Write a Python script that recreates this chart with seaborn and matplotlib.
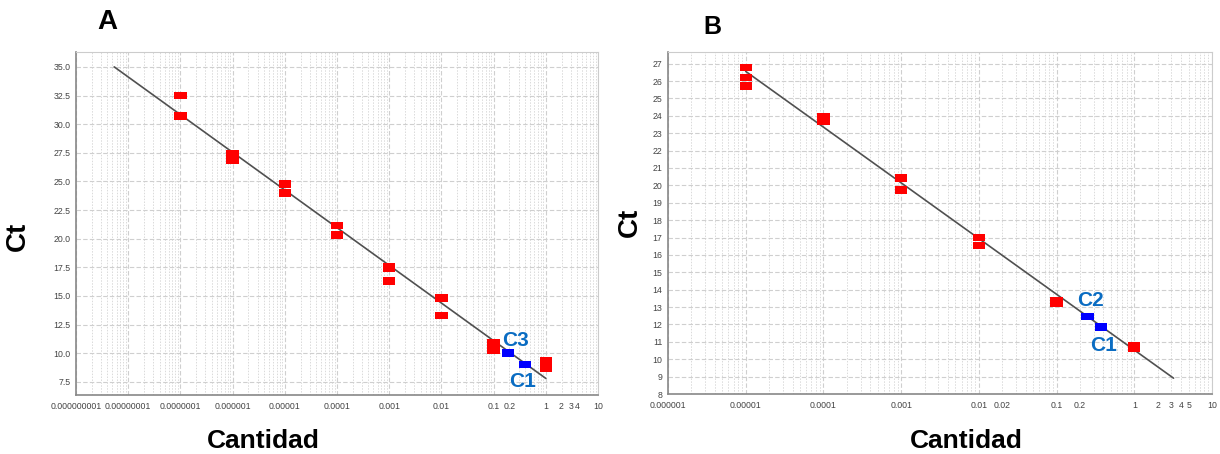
import numpy as np
import pandas as pd
import matplotlib
matplotlib.use('Agg')
import matplotlib.pyplot as plt
import seaborn as sns
from matplotlib.ticker import FixedLocator, FuncFormatter

# --- Panel A: curva estandar ---
a_x_std = [1e-7, 1e-7, 1e-6, 1e-6, 1e-5, 1e-5, 1e-4, 1e-4, 1e-3, 1e-3, 1e-3,
           1e-2, 1e-2, 1e-1, 1e-1, 1, 1]
a_ct_std = [32.5, 30.7, 27.4, 26.85, 24.8, 24.0, 21.15, 20.3, 17.55, 17.4, 16.3,
            14.8, 13.3, 10.95, 10.3, 9.3, 8.65]
a_x_muestra = [0.19, 0.40]
a_ct_muestra = [10.0, 9.0]
a_muestra_lbl = ["C3", "C1"]
a_pendiente = -3.29
a_intercepto = 7.8
a_rango_x = [5.4e-9, 1.0]
a_xticks = [1e-9, 1e-8, 1e-7, 1e-6, 1e-5, 1e-4, 1e-3, 1e-2, 1e-1, 1, 10]
a_xticklabels = ["0.000000001", "0.00000001", "0.0000001", "0.000001", "0.00001",
                 "0.0001", "0.001", "0.01", "0.1", "1", "10"]
a_xminor_lbl = {0.2: "0.2", 2: "2", 3: "3", 4: "4"}
a_yticks = [7.5, 10.0, 12.5, 15.0, 17.5, 20.0, 22.5, 25.0, 27.5, 30.0, 32.5, 35.0]

# --- Panel B ---
b_x_std = [1e-5, 1e-5, 1e-5, 1e-4, 1e-4, 1e-3, 1e-3, 1e-2, 1e-2, 1e-1, 1e-1, 1, 1]
b_ct_std = [26.77, 26.2, 25.72, 23.95, 23.7, 20.43, 19.73, 17.0, 16.55,
            13.38, 13.22, 10.8, 10.65]
b_x_muestra = [0.25, 0.37]
b_ct_muestra = [12.45, 11.86]
b_muestra_lbl = ["C2", "C1"]
b_pendiente = -3.205
b_intercepto = 10.53
b_rango_x = [1e-5, 3.2]
b_xticks = [1e-6, 1e-5, 1e-4, 1e-3, 1e-2, 1e-1, 1, 10]
b_xticklabels = ["0.000001", "0.00001", "0.0001", "0.001", "0.01", "0.1", "1", "10"]
b_xminor_lbl = {0.02: "0.02", 0.2: "0.2", 2: "2", 3: "3", 4: "4", 5: "5"}
b_yticks = list(range(8, 28))

sns.set_style("white")
plt.rcParams["font.family"] = ["Liberation Sans", "DejaVu Sans"]

fig = plt.figure(figsize=(12.2, 4.54), dpi=100)
axA = fig.add_axes([76/1220, 59/454, 522/1220, 343/454])
axB = fig.add_axes([668/1220, 60/454, 544/1220, 342/454])

rect = [(-1.0, -0.62), (1.0, -0.62), (1.0, 0.62), (-1.0, 0.62)]
colores = {"std": "#ff0000", "muestra": "#0000ff"}


def panel(ax, x_std, ct_std, x_m, ct_m, lbls, m, b, rango, xticks, xlbls, minor_lbl,
          yticks, xlim, ylim, yfmt, offs):
    df = pd.DataFrame({
        "Cantidad": list(x_std) + list(x_m),
        "Ct": list(ct_std) + list(ct_m),
        "tipo": ["std"] * len(x_std) + ["muestra"] * len(x_m),
    })
    xs = np.array(rango)
    sns.lineplot(x=xs, y=b + m * np.log10(xs), color="#505050", lw=1.2, ax=ax, zorder=2)
    sns.scatterplot(data=df, x="Cantidad", y="Ct", hue="tipo", palette=colores,
                    marker=rect, s=78, linewidth=0, legend=False, ax=ax, zorder=3)
    ax.set_xscale("log")
    ax.set_xlim(*xlim)
    ax.set_ylim(*ylim)
    ax.xaxis.set_major_locator(FixedLocator(xticks))
    mapa = dict(zip(xticks, xlbls))
    ax.xaxis.set_major_formatter(FuncFormatter(lambda v, p: mapa.get(v, "")))
    minors = [s * 10.0 ** e for e in range(int(np.log10(xlim[0])), int(np.log10(xlim[1])))
              for s in range(2, 10)]
    ax.xaxis.set_minor_locator(FixedLocator(minors))

    def fmt_minor(v, p):
        for k, t in minor_lbl.items():
            if abs(v - k) / k < 1e-6:
                return t
        return ""
    ax.xaxis.set_minor_formatter(FuncFormatter(fmt_minor))
    ax.set_yticks(yticks)
    ax.yaxis.set_major_formatter(FuncFormatter(lambda v, p: yfmt.format(v)))
    ax.grid(which="major", axis="both", color="#cfcfcf", lw=0.8, ls=(0, (4, 2)))
    ax.grid(which="minor", axis="x", color="#dadada", lw=0.7, ls=(0, (1.5, 1.5)))
    ax.tick_params(which="both", labelsize=6.3, labelcolor="#444444", colors="#888888")
    ax.tick_params(which="major", length=3, width=0.8, pad=2)
    ax.tick_params(which="minor", length=0, pad=5)
    ax.tick_params(axis="y", length=0, pad=4)
    for lado in ["top", "right"]:
        ax.spines[lado].set_color("#cccccc")
    for lado in ["left", "bottom"]:
        ax.spines[lado].set_color("#888888")
        ax.spines[lado].set_linewidth(1.2)
    ax.set_xlabel("")
    ax.set_ylabel("")
    for xv, yv, t, (dx, dy, va) in zip(x_m, ct_m, lbls, offs):
        ax.annotate(t, (xv, yv), xytext=(dx, dy), textcoords="offset pixels",
                    ha="left", va=va, color="#0a6cc2", fontsize=15, fontweight="bold",
                    zorder=4)


panel(axA, a_x_std, a_ct_std, a_x_muestra, a_ct_muestra, a_muestra_lbl,
      a_pendiente, a_intercepto, a_rango_x, a_xticks, a_xticklabels, a_xminor_lbl,
      a_yticks, (1e-9, 10), (6.35, 36.3), "{:.1f}",
      [(-6, 3, "bottom"), (-16, -7, "top")])
panel(axB, b_x_std, b_ct_std, b_x_muestra, b_ct_muestra, b_muestra_lbl,
      b_pendiente, b_intercepto, b_rango_x, b_xticks, b_xticklabels, b_xminor_lbl,
      b_yticks, (1e-6, 10), (8, 27.67), "{:.0f}",
      [(-10, 7, "bottom"), (-11, -9, "top")])

etiqueta = dict(fontweight="bold", color="black")
fig.text(107/1220, 1 - 22/454, "A", fontsize=20, ha="center", va="center", **etiqueta)
fig.text(712/1220, 1 - 27/454, "B", fontsize=18, ha="center", va="center", **etiqueta)
fig.text(18/1220, 1 - 236/454, "Ct", fontsize=20, rotation=90, ha="center", va="center", **etiqueta)
fig.text(630/1220, 1 - 222/454, "Ct", fontsize=20, rotation=90, ha="center", va="center",
         zorder=0, **etiqueta)
fig.text(263/1220, 1 - 441/454, "Cantidad", fontsize=19, ha="center", va="center", **etiqueta)
fig.text(966/1220, 1 - 441/454, "Cantidad", fontsize=19, ha="center", va="center", **etiqueta)

fig.savefig("out.png", dpi=100)
